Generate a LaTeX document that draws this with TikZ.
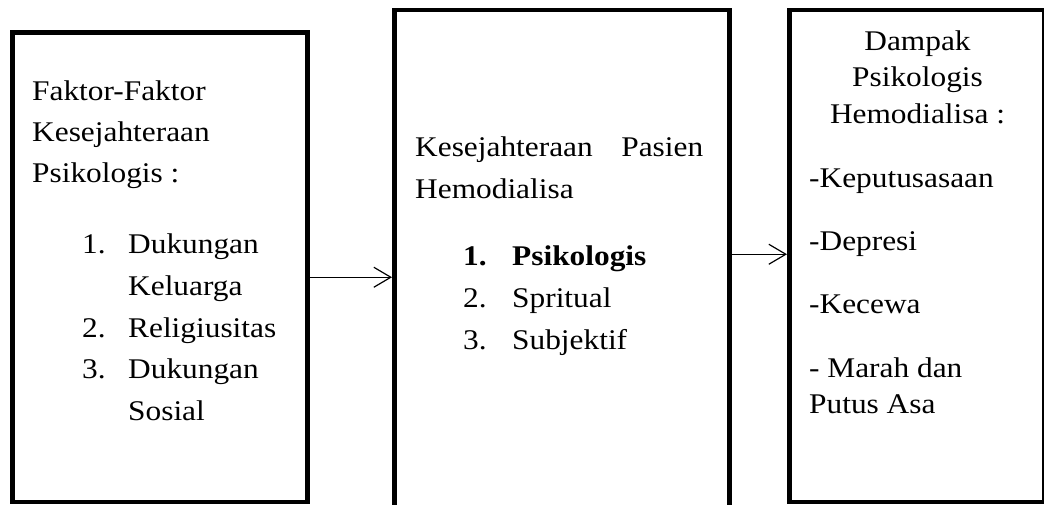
\documentclass[tikz,border=0pt]{standalone}
\usepackage{fontspec}
\setmainfont{Liberation Serif}[FakeStretch=1.1]
\usetikzlibrary{arrows.meta}

\begin{document}
\begin{tikzpicture}[x=1pt,y=-1pt,
  box/.style={draw=black, line width=4.5pt, rectangle, anchor=north west, inner sep=0pt},
  txt/.style={inner sep=0pt, anchor=base west, font=\fontsize{28.5}{41.5}\selectfont},
  ctxt/.style={txt, anchor=base},
  arr/.style={draw=black, line width=1.2pt, -{Straight Barb[length=17pt,width=20pt,line width=1.2pt]}}]

\useasboundingbox (0,0) rectangle (1044,504);

% the three frames
\node[box, minimum width=295pt, minimum height=469.5pt] (b1) at (10,30) {};
\node[box, minimum width=335pt, minimum height=512.5pt] (b2) at (392,7.5) {};
\node[box, minimum width=255pt, minimum height=492pt] (b3) at (787,7.5) {};

% left frame: factors
\node[txt] (f1) at (32,100) {Faktor-Faktor};
\node[txt] (f2) at (32,141) {Kesejahteraan};
\node[txt] (f3) at (32,182) {Psikologis :};
\node[txt] (fn1) at (82,253) {1.};
\node[txt] (fi1) at (128,253) {Dukungan};
\node[txt] (fi1b) at (128,295) {Keluarga};
\node[txt] (fn2) at (82,337) {2.};
\node[txt] (fi2) at (128,337) {Religiusitas};
\node[txt] (fn3) at (82,378) {3.};
\node[txt] (fi3) at (128,378) {Dukungan};
\node[txt] (fi3b) at (128,420) {Sosial};

% middle frame: well-being
\node[txt] (k1) at (415,156) {\makebox[288pt][s]{Kesejahteraan\hfill Pasien}};
\node[txt] (k2) at (415,198) {Hemodialisa};
\node[txt] (kn1) at (463,265) {\bfseries 1.};
\node[txt] (ki1) at (512,265) {\bfseries Psikologis};
\node[txt] (kn2) at (463,307) {2.};
\node[txt] (ki2) at (512,307) {Spritual};
\node[txt] (kn3) at (463,349) {3.};
\node[txt] (ki3) at (512,349) {Subjektif};

% right frame: impacts
\node[ctxt] (d1) at (917.5,50) {Dampak};
\node[ctxt] (d2) at (917.5,86) {Psikologis};
\node[ctxt] (d3) at (917.5,123) {Hemodialisa :};
\node[txt] (di1) at (809,187) {-Keputusasaan};
\node[txt] (di2) at (809,250) {-Depresi};
\node[txt] (di3) at (809,313) {-Kecewa};
\node[txt] (di4) at (809,377) {- Marah dan};
\node[txt] (di4b) at (809,413) {Putus Asa};

% connectors
\coordinate (a1) at ([yshift=-10.25pt]b1.east);
\draw[arr] (a1) -- (a1 -| b2.west);
\coordinate (a2) at ([yshift=11.75pt]b2.east);
\draw[arr] (a2) -- (a2 -| b3.west);
\end{tikzpicture}
\end{document}
